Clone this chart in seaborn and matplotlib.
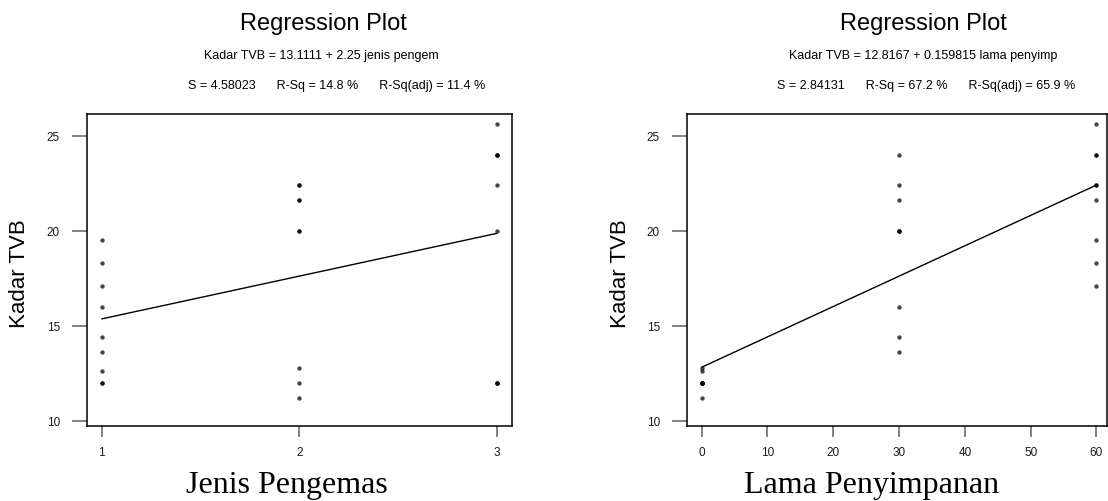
import matplotlib
matplotlib.use('Agg')
import matplotlib.pyplot as plt
import seaborn as sns
import pandas as pd

# data: 3 packaging types x 3 storage times x 3 replicates
jenis_pengemas = [1, 1, 1, 1, 1, 1, 1, 1, 1,
                  2, 2, 2, 2, 2, 2, 2, 2, 2,
                  3, 3, 3, 3, 3, 3, 3, 3, 3]
lama_penyimpanan = [0, 0, 0, 30, 30, 30, 60, 60, 60,
                    0, 0, 0, 30, 30, 30, 60, 60, 60,
                    0, 0, 0, 30, 30, 30, 60, 60, 60]
kadar_tvb = [12.6, 12.0, 12.0, 16.0, 14.4, 13.6, 17.1, 18.3, 19.5,
             12.8, 12.0, 11.2, 21.6, 20.0, 20.0, 22.4, 22.4, 21.6,
             12.0, 12.0, 12.0, 24.0, 22.4, 20.0, 25.6, 24.0, 24.0]

y_ticks = [10, 15, 20, 25]
x_ticks_left = [1, 2, 3]
x_ticks_right = [0, 10, 20, 30, 40, 50, 60]

titles = ['Regression Plot', 'Regression Plot']
equations = ['Kadar TVB = 13.1111 + 2.25 jenis pengem',
             'Kadar TVB = 12.8167 + 0.159815 lama penyimp']
stats = ['S = 4.58023      R-Sq = 14.8 %      R-Sq(adj) = 11.4 %',
         'S = 2.84131      R-Sq = 67.2 %      R-Sq(adj) = 65.9 %']
x_labels = ['Jenis Pengemas', 'Lama Penyimpanan']

data = pd.DataFrame({'jenis': jenis_pengemas,
                     'lama': lama_penyimpanan,
                     'tvb': kadar_tvb})

sns.set_theme(style='ticks')
plt.rcParams['font.family'] = ['Liberation Sans', 'DejaVu Sans']

W, H = 1108, 502
fig = plt.figure(figsize=(W / 100, H / 100), dpi=100)
fig.patch.set_facecolor('white')

def px_rect(x0, y0, x1, y1):
    return [x0 / W, 1 - y1 / H, (x1 - x0) / W, (y1 - y0) / H]

ax1 = fig.add_axes(px_rect(86.7, 114.7, 511.7, 426.7))
ax2 = fig.add_axes(px_rect(686.7, 114.7, 1107, 426.7))

panels = [
    (ax1, 'jenis', x_ticks_left, (0.924, 3.076)),
    (ax2, 'lama', x_ticks_right, (-2.28, 61.6)),
]

for ax, col, xt, xl in panels:
    sns.regplot(data=data, x=col, y='tvb', ax=ax, ci=None, truncate=True,
                scatter_kws={'s': 10, 'color': 'black', 'alpha': 0.72,
                             'linewidths': 0},
                line_kws={'color': 'black', 'linewidth': 1.0})
    ax.set_xlim(*xl)
    ax.set_ylim(9.74, 26.16)
    ax.set_xticks(xt)
    ax.set_yticks(y_ticks)
    ax.set_facecolor('white')
    for s in ax.spines.values():
        s.set_visible(True)
        s.set_color('black')
        s.set_linewidth(1.1)
    ax.tick_params(axis='y', length=10.8, width=1.1, color='#606060',
                   pad=8.4, labelsize=8.5, labelcolor='#1a1a1a')
    ax.tick_params(axis='x', length=8, width=1.1, color='#606060',
                   pad=6.5, labelsize=8.5, labelcolor='#1a1a1a')
    ax.set_ylabel('Kadar TVB', fontsize=16, color='black')
    ax.yaxis.label.set_va('center')
    ax.yaxis.set_label_coords(-0.157, 0.49)
    ax.set_xlabel('')

# texts above and below the panels, positions in pixels
title_x = [323.7, 923.3]
eq_x = [321.6, 922.9]
stat_x = [336.7, 926.4]
xlab_x = [286.6, 871.7]
for i in range(2):
    fig.text(title_x[i] / W, 1 - 24 / H, titles[i], ha='center', va='center',
             fontsize=17, color='black')
    fig.text(eq_x[i] / W, 1 - 56 / H, equations[i], ha='center', va='center',
             fontsize=9, color='black')
    fig.text(stat_x[i] / W, 1 - 86 / H, stats[i], ha='center', va='center',
             fontsize=9, color='black')
    fig.text(xlab_x[i] / W, 1 - 493 / H, x_labels[i], ha='center',
             va='baseline', fontsize=23, family='Liberation Serif',
             color='black')

fig.savefig('out.png', dpi=100)
